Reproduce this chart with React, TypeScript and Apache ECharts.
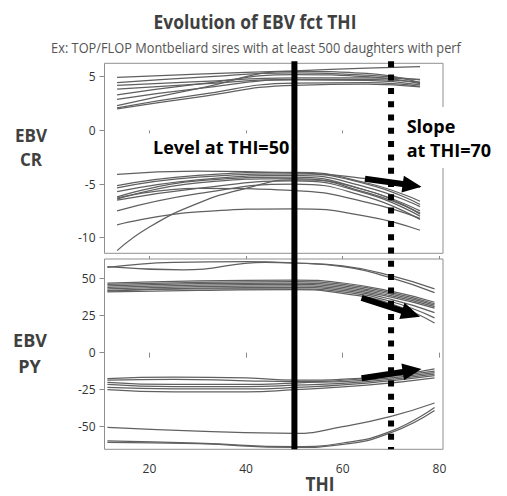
import React, { useEffect, useRef } from "react";
import * as echarts from "echarts";

// ---- tick labels ----
const xTicks = [20, 40, 60, 80];
const crTicks = [5, 0, -5, -10];
const pyTicks = [50, 25, 0, -25, -50];

// ---- EBV CR panel (top) ----
const crHighX = [13.3, 30, 50, 65, 76];
const crHigh = [
  [4.95, 5.25, 5.55, 5.8, 5.95],
  [4.45, 4.95, 5.35, 5.15, 4.7],
  [4.2, 4.55, 4.9, 4.9, 4.75],
  [3.85, 4.3, 4.75, 4.75, 4.5],
  [3.3, 4.3, 5.2, 5.0, 4.35],
  [2.9, 3.9, 4.7, 4.65, 4.25],
  [2.3, 3.9, 5.5, 5.3, 4.45],
  [2.1, 3.3, 4.4, 4.45, 4.1],
  [2.0, 3.1, 4.2, 4.3, 4.05],
];
const crLowX = [13.3, 30, 50, 65, 76];
const crLow = [
  [-4.1, -3.8, -3.95, -4.5, -5.3],
  [-5.15, -4.2, -3.9, -4.9, -6.6],
  [-5.35, -4.35, -4.05, -5.0, -6.9],
  [-5.7, -4.6, -4.2, -5.3, -7.1],
  [-6.2, -4.7, -4.35, -5.6, -7.5],
  [-6.4, -4.9, -4.5, -5.8, -7.7],
  [-6.5, -5.4, -4.7, -5.9, -8.0],
  [-7.5, -5.9, -5.0, -6.2, -8.3],
  [-6.3, -5.4, -5.6, -6.7, -8.2],
  [-8.8, -7.6, -7.3, -8.0, -9.3],
];
const crSteepX = [13.3, 20, 30, 40, 50, 65, 76];
const crSteep = [-11.2, -9.0, -6.8, -5.4, -4.6, -5.6, -7.8];

// ---- EBV PY panel (bottom) ----
const pyTopX = [
  [11.3, 27, 44, 50, 60, 70, 79],
  [11.3, 25, 40, 50, 60, 70, 79],
];
const pyTop = [
  [58, 55.8, 61, 60.5, 58.5, 52, 43],
  [57.5, 61, 61.5, 60.5, 58, 50.5, 40.5],
];
const pyMainX = [11.3, 30, 50, 60, 70, 79];
const pyMain = [
  [47, 48.5, 49, 47, 41.5, 34],
  [46, 47.5, 48, 46, 40.5, 33],
  [45, 46.5, 47, 45, 39.5, 32],
  [44, 45.5, 46, 44, 38.5, 31],
  [43, 44.5, 45, 43, 37.5, 30],
  [42, 43.5, 44, 42, 36, 27],
  [41.5, 43, 43, 41, 34.5, 23.5],
  [41, 42, 42.5, 40, 33, 20],
];
const pyNegX = [11.3, 25, 40, 50, 65, 79];
const pyNeg = [
  [-17.5, -16.5, -17, -18.5, -17, -11],
  [-18.5, -18, -19, -19.5, -17.5, -12.5],
  [-20, -21.5, -21.5, -20.5, -18.5, -13.5],
  [-21.5, -23, -23, -22, -19.5, -14.5],
  [-23.5, -24.5, -24.5, -23.5, -20.5, -15.5],
  [-25, -26.5, -26.5, -25, -22, -17],
];
const pyBottomX = [11.3, 30, 50, 60, 70, 79];
const pyBottom = [
  [-50.5, -53, -54.5, -50, -43, -34],
  [-59.5, -61, -63.5, -61, -53, -37],
  [-60.5, -61.5, -64, -62, -54, -39],
];

// ---- annotations (data coordinates) ----
const levelTHI = 50;
const slopeTHI = 70;
const arrows = [
  { grid: 0, from: [64.6, -4.5], to: [76.3, -5.25] },
  { grid: 1, from: [63.9, 37.0], to: [76.0, 24.2] },
  { grid: 1, from: [63.9, -17.3], to: [76.3, -11.0] },
];

const X_MIN = 10.7;
const X_MAX = 80.75;

function measure(text: string, font: string): number {
  const c = document.createElement("canvas");
  const ctx = c.getContext("2d");
  if (!ctx) return 0;
  ctx.font = font;
  return ctx.measureText(text).width;
}

export default function App() {
  const ref = useRef<HTMLDivElement>(null);
  useEffect(() => {
    if (!ref.current) return;
    const chart = echarts.init(ref.current, undefined, { renderer: "svg" });

    const lineStyle = { color: "#606060", width: 1.25 };
    const mk = (xs: number[], ys: number[], gi: number) => ({
      type: "line",
      xAxisIndex: gi,
      yAxisIndex: gi,
      data: xs.map((x, i) => [x, ys[i]]),
      smooth: true,
      showSymbol: false,
      symbol: "none",
      silent: true,
      lineStyle,
      z: 2,
    });
    const series: any[] = [];
    crHigh.forEach((ys) => series.push(mk(crHighX, ys, 0)));
    crLow.forEach((ys) => series.push(mk(crLowX, ys, 0)));
    series.push(mk(crSteepX, crSteep, 0));
    pyTop.forEach((ys, i) => series.push(mk(pyTopX[i], ys, 1)));
    pyMain.forEach((ys) => series.push(mk(pyMainX, ys, 1)));
    pyNeg.forEach((ys) => series.push(mk(pyNegX, ys, 1)));
    pyBottom.forEach((ys) => series.push(mk(pyBottomX, ys, 1)));

    const frame = { show: true, borderColor: "#8f8f8f", borderWidth: 1, backgroundColor: "transparent" };
    const labelStyle = { color: "#333", fontSize: 12, fontFamily: "Open Sans" };
    const tickStyle = { color: "#8a8a8a", width: 1 };

    chart.setOption({
      animation: false,
      grid: [
        { left: 104.5, top: 63.3, width: 338.5, height: 190, ...frame },
        { left: 104.5, top: 259, width: 338.5, height: 190.3, ...frame },
      ],
      xAxis: [
        {
          type: "value", gridIndex: 0, min: X_MIN, max: X_MAX, position: "bottom",
          axisLine: { show: false }, splitLine: { show: false },
          axisTick: { show: true, length: 3, customValues: xTicks, lineStyle: tickStyle },
          axisLabel: { show: false },
        },
        {
          type: "value", gridIndex: 1, min: X_MIN, max: X_MAX, position: "bottom",
          axisLine: { show: false }, splitLine: { show: false },
          axisTick: { show: true, length: 5, customValues: xTicks, lineStyle: tickStyle },
          axisLabel: { ...labelStyle, customValues: xTicks, margin: 13 },
        },
        {
          type: "value", gridIndex: 1, min: X_MIN, max: X_MAX, position: "top",
          axisLine: { show: false }, splitLine: { show: false },
          axisTick: { show: true, length: 3, customValues: xTicks, lineStyle: tickStyle },
          axisLabel: { show: false },
        },
      ],
      yAxis: [
        {
          type: "value", gridIndex: 0, min: -11.45, max: 6.25,
          axisLine: { show: false }, splitLine: { show: false },
          axisTick: { show: true, length: 5, customValues: crTicks, lineStyle: tickStyle },
          axisLabel: { ...labelStyle, customValues: crTicks, margin: 9 },
        },
        {
          type: "value", gridIndex: 1, min: -65.25, max: 63.2,
          axisLine: { show: false }, splitLine: { show: false },
          axisTick: { show: true, length: 5, customValues: pyTicks, lineStyle: tickStyle },
          axisLabel: { ...labelStyle, customValues: pyTicks, margin: 9 },
        },
      ],
      series,
    });

    // annotations in pixel space from data coordinates
    const px50 = chart.convertToPixel({ xAxisIndex: 1 }, levelTHI) as number;
    const px70 = chart.convertToPixel({ xAxisIndex: 1 }, slopeTHI) as number;
    const yTop = (chart.convertToPixel({ yAxisIndex: 0 }, 6.25) as number) - 2;
    const yBot = chart.convertToPixel({ yAxisIndex: 1 }, -65.25) as number;

    const arrowEls = arrows.map((a) => {
      const p0 = chart.convertToPixel({ gridIndex: a.grid }, a.from) as number[];
      const p1 = chart.convertToPixel({ gridIndex: a.grid }, a.to) as number[];
      const dx = p1[0] - p0[0];
      const dy = p1[1] - p0[1];
      const len = Math.hypot(dx, dy);
      const ux = dx / len, uy = dy / len;
      const nx = -uy, ny = ux;
      const w = 3, hl = 19, hw = 8.5;
      const bx = p1[0] - ux * hl, by = p1[1] - uy * hl;
      return {
        type: "polygon",
        z: 20,
        shape: {
          points: [
            [p0[0] + nx * w, p0[1] + ny * w],
            [bx + nx * w, by + ny * w],
            [bx + nx * hw, by + ny * hw],
            [p1[0], p1[1]],
            [bx - nx * hw, by - ny * hw],
            [bx - nx * w, by - ny * w],
            [p0[0] - nx * w, p0[1] - ny * w],
          ],
        },
        style: { fill: "#000" },
      };
    });

    const titleFont = 'bold 20px "Open Sans"';
    const subFont = '14px "Open Sans"';
    const title = "Evolution of EBV fct THI";
    const sub = "Ex: TOP/FLOP Montbeliard sires with at least 500 daughters with perf";
    const tW = measure(title, titleFont) || 203;
    const sW = measure(sub, subFont) || 410;
    const thiFont = 'bold 20px "Open Sans"';
    const thiW = measure("THI", thiFont) || 28;

    const txt = (text: string, x: number, y: number, font: string, fill: string, align: string, scaleX = 1) => ({
      type: "text",
      x, y, scaleX, z: 30,
      style: { text, font, fill, align, verticalAlign: "middle" },
    });

    chart.setOption({
      graphic: [
        { type: "rect", z: 15, shape: { x: 400, y: 107, width: 95, height: 61 }, style: { fill: "#fff" } },
        txt(title, 255, 21, titleFont, "#404040", "center", 203 / tW),
        txt(sub, 256, 47.7, subFont, "#555", "center", 410 / sW),
        txt("Level at THI=50", 153, 146.7, 'bold 18px "Open Sans"', "#000", "left"),
        txt("Slope", 406.7, 126, 'bold 18px "Open Sans"', "#000", "left"),
        txt("at THI=70", 406.7, 150, 'bold 18px "Open Sans"', "#000", "left"),
        txt("EBV", 31, 135.2, 'bold 17px "Open Sans"', "#404040", "center"),
        txt("CR", 31, 159.5, 'bold 17px "Open Sans"', "#404040", "center"),
        txt("EBV", 30, 340.3, 'bold 18px "Open Sans"', "#404040", "center"),
        txt("PY", 29.5, 365.5, 'bold 18px "Open Sans"', "#404040", "center"),
        txt("THI", 320, 482.7, thiFont, "#404040", "center", 29 / thiW),
        {
          type: "line", z: 18,
          shape: { x1: px50, y1: yTop, x2: px50, y2: yBot },
          style: { stroke: "#000", lineWidth: 6 },
        },
        {
          type: "line", z: 18,
          shape: { x1: px70, y1: yTop, x2: px70, y2: yBot },
          style: { stroke: "#000", lineWidth: 6, lineDash: [6, 7.3] },
        },
        ...arrowEls,
      ],
    });

    return () => chart.dispose();
  }, []);

  return (
    <div
      ref={ref}
      style={{ position: "absolute", left: 0, top: 0, width: 507, height: 496, background: "#fff" }}
    />
  );
}
